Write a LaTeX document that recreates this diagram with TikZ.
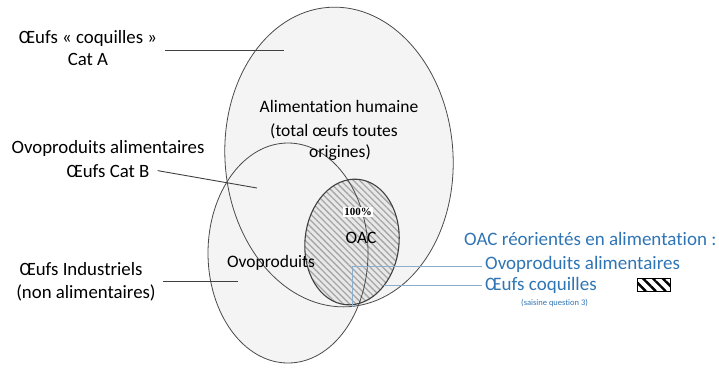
\documentclass[tikz,border=0pt]{standalone}
\usepackage{fontspec}
\setmainfont[Ligatures=NoCommon]{Carlito}
\newfontfamily\pctfont{Liberation Serif}
\usetikzlibrary{patterns.meta}

\definecolor{setline}{HTML}{4A4A4A}
\definecolor{setfill}{HTML}{F4F4F4}
\definecolor{oacfill}{HTML}{E8E8E8}
\definecolor{hatch}{HTML}{A6A6A6}
\definecolor{legblue}{HTML}{2F75B5}
\definecolor{legline}{HTML}{8DAECB}

\tikzset{
  outertext/.style={font=\fontsize{18.8}{22}\selectfont, inner sep=1pt},
  innertext/.style={font=\fontsize{17.5}{21}\selectfont, inner sep=1pt},
  legtext/.style={font=\fontsize{19}{22}\selectfont, text=legblue, inner sep=1pt, anchor=base west},
  setedge/.style={draw=setline, line width=0.8pt},
  oacedge/.style={draw=black!75, line width=1.1pt},
  pointer/.style={draw=black!75, line width=0.9pt},
  bluepointer/.style={draw=legline, line width=0.9pt},
  swatch/.style={draw=black, line width=0.6pt, minimum width=33pt, minimum height=13pt,
    inner sep=0pt, pattern={Lines[angle=-45, distance=7pt, line width=2.4pt]}},
}

\begin{document}
\begin{tikzpicture}[x=1pt,y=-1pt]
\useasboundingbox (0,0) rectangle (719,368);

% fills of the sets
\fill[setfill, rotate around={4:(339,157)}] (339,157) ellipse [x radius=114, y radius=150];
\fill[setfill] (288,253) ellipse [x radius=80, y radius=110];
\fill[oacfill, rotate around={-6:(352,242)}] (352,242) ellipse [x radius=47, y radius=63];
\fill[pattern={Lines[angle=-45, distance=4.5pt, line width=1.3pt]}, pattern color=hatch,
  rotate around={-6:(352,242)}] (352,242) ellipse [x radius=47, y radius=63];

% outlines
\draw[setedge, rotate around={4:(339,157)}] (339,157) ellipse [x radius=114, y radius=150];
\draw[setedge] (288,253) ellipse [x radius=80, y radius=110];
\draw[oacedge, rotate around={-6:(352,242)}] (352,242) ellipse [x radius=47, y radius=63];

% texts inside the sets
\node[innertext, anchor=base] (alim1) at (339,112) {Alimentation humaine};
\node[innertext, anchor=base] (alim2) at (334,136) {(total œufs toutes};
\node[innertext, anchor=base] (alim3) at (340,157) {origines)};
\node[fill=white, inner sep=1.5pt, font=\pctfont\bfseries\fontsize{11}{12}\selectfont] (pct) at (358,212) {100\%};
\node[innertext, anchor=base] (oac) at (361,243) {OAC};
\node[innertext, anchor=base] (ovo) at (271,267) {Ovoproduits};

% texts on the left
\node[outertext, anchor=base] (catA1) at (88,43) {Œufs « coquilles »};
\node[outertext, anchor=base] (catA2) at (88,65) {Cat A};
\node[outertext, anchor=base] (catB1) at (108,153) {Ovoproduits alimentaires};
\node[outertext, anchor=base] (catB2) at (108,177) {Œufs Cat B};
\node[outertext, anchor=base] (ind1) at (81,275) {Œufs Industriels};
\node[outertext, anchor=base] (ind2) at (86,298) {(non alimentaires)};

\coordinate (catAend) at (284,50);
\coordinate (catBend) at (257,188);
\coordinate (indend) at (238,281);
\draw[pointer] ([xshift=7pt]catA1.east |- catAend) -- (catAend);
\draw[pointer] ([xshift=7pt]catB2.east) -- (catBend);
\draw[pointer] ([xshift=6pt]ind2.east |- indend) -- (indend);

% legend
\node[legtext] (legtitle) at (463,245) {OAC réorientés en alimentation :};
\node[legtext] (leg1) at (484,269) {Ovoproduits alimentaires};
\node[legtext] (leg2) at (484,290) {Œufs coquilles};
\node[legtext, font=\fontsize{8.5}{10}\selectfont] (leg3) at (520,305) {(saisine question 3)};
\node[swatch] (box) at (654,285) {};

\coordinate (oacknee) at (352,266);
\coordinate (oacfoot) at (352,307);
\coordinate (shellend) at (384,285);
\draw[bluepointer] ([xshift=-2pt]leg1.west |- oacknee) -- (oacknee) -- (oacfoot);
\draw[bluepointer] ([xshift=-2pt]leg2.west |- shellend) -- (shellend);
\end{tikzpicture}
\end{document}
